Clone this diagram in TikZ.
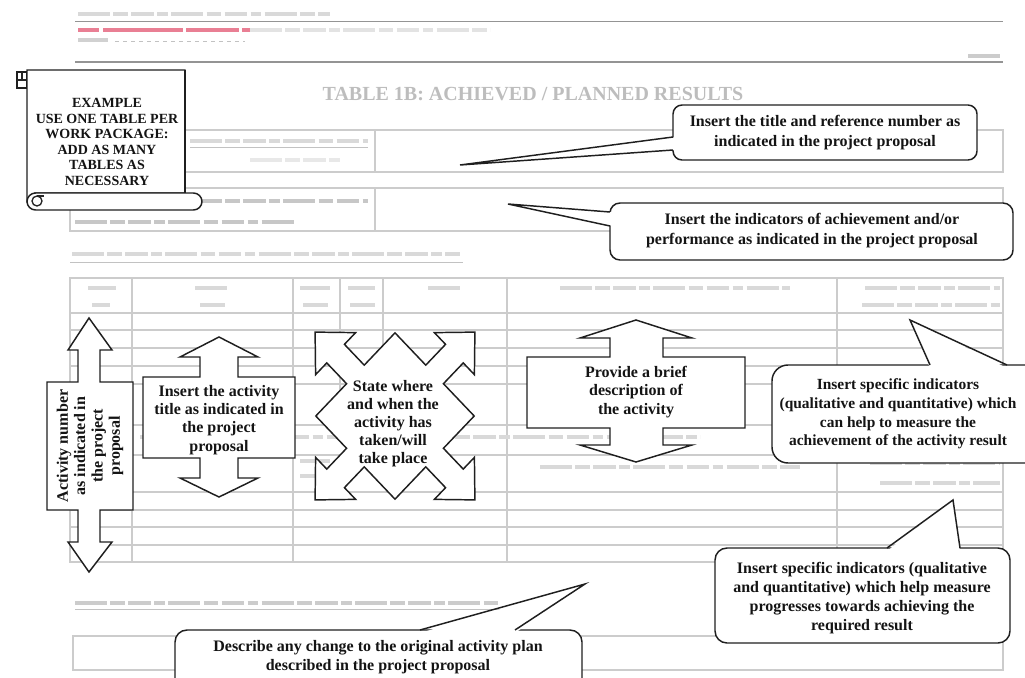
\documentclass[tikz,border=0pt]{standalone}
\usepackage{fontspec}
\setmainfont{Liberation Serif}
\begin{document}
\begin{tikzpicture}[x=0.75pt,y=-0.75pt,
  grid/.style={draw=black!20, line width=0.8pt},
  rulegray/.style={draw=black!42, line width=0.9pt},
  fadebar/.style={draw=black!15, line width=3pt,
    dash pattern=on 24pt off 2.5pt on 11pt off 2.5pt on 17pt off 2.5pt on 8pt off 2.5pt},
  fadeline/.style={draw=black!24, line width=0.6pt},
  cshape/.style={draw=black!88, line width=1.1pt, fill=white, line join=miter},
  ctext/.style={align=center, text=black!92, inner sep=0pt, font=\bfseries\fontsize{12}{15}\selectfont},
  faded/.style={text=black!26, inner sep=0pt}
]
\useasboundingbox (0,0) rectangle (1025,678);
\clip (0,0) rectangle (1025,678);

% ---------- page header ----------
\draw[fadebar] (78,14) -- (330,14);
\draw[rulegray] (75,21.5) -- (1003,21.5);
\draw[draw={rgb,255:red,226;green,84;blue,112}, line width=2.6pt, opacity=.75,
  dash pattern=on 16pt off 3pt on 60pt off 2pt on 40pt off 2pt] (78,30) -- (250,30);
\draw[fadebar, draw=black!11] (250,30) -- (490,30);
\draw[fadebar, draw=black!18] (78,40) -- (108,40);
\draw[fadeline, dashed] (115,41) -- (245,41);
\draw[rulegray] (75,62) -- (1003,62);
\draw[fadebar, draw=black!20] (968,56) -- (1000,56);

% ---------- table title ----------
\node[faded, font=\bfseries\fontsize{15}{15}\selectfont] (tabtitle) at (533,94)
  {TABLE 1B: ACHIEVED / PLANNED RESULTS};

% ---------- first two single-row tables ----------
\draw[grid] (70,130) rectangle (1003,172);
\draw[grid] (375,130) -- (375,172);
\draw[fadebar] (190,141) -- (368,141);
\draw[fadeline] (190,147) -- (368,147);
\draw[fadebar, draw=black!9] (250,160) -- (340,160);

\draw[grid] (70,188) rectangle (1003,231);
\draw[grid] (375,188) -- (375,231);
\draw[fadebar, draw=black!22] (190,201) -- (368,201);
\draw[fadebar, draw=black!22] (75,222) -- (295,222);

% ---------- activities table ----------
\draw[fadebar] (72,254) -- (460,254);
\draw[fadeline] (70,262) -- (463,262);

\draw[grid] (70,278) rectangle (1003,562);
\foreach \yy in {313,330,348,366,384,425,455,492,510,527,545}
  \draw[grid] (70,\yy) -- (1003,\yy);
\foreach \xx in {132,293,507,837}
  \draw[grid] (\xx,278) -- (\xx,562);
\foreach \xx in {340,383}
  \draw[grid] (\xx,278) -- (\xx,425);

% column headings and cell contents
\foreach \xa/\xb/\yy in {88/116/288, 92/110/305, 195/230/288, 200/225/305,
    300/330/288, 303/328/305, 348/375/288, 350/375/305, 428/462/288,
    560/790/288, 865/1000/288, 862/1000/305,
    140/700/437, 540/800/467, 870/1000/463, 880/1000/483,
    300/330/461, 300/340/476}
  \draw[fadebar] (\xa,\yy) -- (\xb,\yy);

% ---------- changes section ----------
\draw[fadebar, draw=black!20] (75,603) -- (500,603);
\draw[fadeline] (75,609) -- (500,609);
\draw[grid] (73,636) rectangle (1003,670);

% ---------- scroll note ----------
\draw[cshape, line width=1pt] (17,72) rectangle (27,88);
\draw[line width=0.8pt, black!85] (17,80) -- (27,80) (22,72) -- (22,80);
\filldraw[cshape] (27,201) -- (27,70) -- (179,70) [rounded corners=0pt]
  -- (185,70) -- (185,193) -- (35,193) -- cycle;
\draw[cshape] (185,70) -- (185,193);
\filldraw[cshape, rounded corners=6.4pt] (27,193) rectangle (202,210);
\draw[line width=1pt, black!85] (37,201) circle (5);
\draw[line width=1pt, black!85] (37,196) -- (44,196);
\node[ctext, font=\bfseries\fontsize{10.5}{11.7}\selectfont] (scrolltext) at (107,142)
  {EXAMPLE\\USE ONE TABLE PER\\WORK PACKAGE:\\ADD AS MANY\\TABLES AS\\NECESSARY};

% ---------- callout: title and reference number ----------
\filldraw[cshape, rounded corners=6.75pt] (673,105) rectangle (977,160);
\fill[white] (676,137) -- (460,165) -- (676,150) -- cycle;
\draw[cshape, fill=none] (673,137) -- (460,165) -- (673,150);
\node[ctext] (c1) at (825,133)
  {Insert the title and reference number as\\indicated in the project proposal};

% ---------- callout: indicators of achievement ----------
\filldraw[cshape, rounded corners=7.5pt] (610,203) rectangle (1013,260);
\fill[white] (613,212) -- (508,204) -- (613,226) -- cycle;
\draw[cshape, fill=none] (610,212) -- (508,204) -- (610,226);
\node[ctext] (c2) at (812,231)
  {Insert the indicators of achievement and/or\\performance as indicated in the project proposal};

% ---------- up-down arrow: activity number ----------
\filldraw[cshape] (89,318) -- (112,350) -- (100,350) -- (100,382) -- (133,382)
  -- (133,510) -- (100,510) -- (100,542) -- (112,542) -- (89,572) -- (68,542)
  -- (78,542) -- (78,510) -- (47,510) -- (47,382) -- (78,382) -- (78,350)
  -- (68,350) -- cycle;
\node[ctext, rotate=90, font=\bfseries\fontsize{12}{13}\selectfont] (actnum) at (90,446)
  {Activity number\\as indicated in\\the project\\proposal};

% ---------- up-down arrow: activity title ----------
\filldraw[cshape] (219,337) -- (258,357) -- (238,357) -- (238,377) -- (295,377)
  -- (295,458) -- (238,458) -- (238,478) -- (258,478) -- (219,497) -- (180,478)
  -- (200,478) -- (200,458) -- (143,458) -- (143,377) -- (200,377) -- (200,357)
  -- (180,357) -- cycle;
\node[ctext, font=\bfseries\fontsize{12}{13.7}\selectfont] (acttitle) at (219,420)
  {Insert the activity\\title as indicated in\\the project\\proposal};

% ---------- quad arrow: place and date ----------
\begin{scope}[shift={(395,416)}, yscale=1.05, rotate=45]
  \filldraw[cshape] (113,0) -- (84,28.3) -- (84,12.5) -- (56,12.5) -- (56,56)
    -- (12.5,56) -- (12.5,84) -- (28.3,84) -- (0,113) -- (-28.3,84) -- (-12.5,84)
    -- (-12.5,56) -- (-56,56) -- (-56,12.5) -- (-84,12.5) -- (-84,28.3) -- (-113,0)
    -- (-84,-28.3) -- (-84,-12.5) -- (-56,-12.5) -- (-56,-56) -- (-12.5,-56)
    -- (-12.5,-84) -- (-28.3,-84) -- (0,-113) -- (28.3,-84) -- (12.5,-84)
    -- (12.5,-56) -- (56,-56) -- (56,-12.5) -- (84,-12.5) -- (84,-28.3) -- cycle;
\end{scope}
\node[ctext, font=\bfseries\fontsize{12}{13.5}\selectfont] (place) at (393,424)
  {State where\\and when the\\activity has\\taken/will\\take place};

% ---------- up-down arrow: description ----------
\filldraw[cshape] (636,320) -- (692,338) -- (663,338) -- (663,357) -- (745,357)
  -- (745,428) -- (663,428) -- (663,445) -- (692,445) -- (636,462) -- (580,445)
  -- (610,445) -- (610,428) -- (527,428) -- (527,357) -- (610,357) -- (610,338)
  -- (580,338) -- cycle;
\node[ctext, font=\bfseries\fontsize{12}{13.9}\selectfont] (descr) at (636,392)
  {Provide a brief\\description of\\the activity};

% ---------- callout: activity result indicators ----------
\filldraw[cshape, rounded corners=12pt] (772,365) rectangle (1045,463);
\fill[white] (930,368) -- (910,320) -- (1007,368) -- cycle;
\draw[cshape, fill=none] (930,365) -- (910,320) -- (1007,365);
\node[ctext, font=\bfseries\fontsize{11.6}{14}\selectfont] (c3) at (898,414)
  {Insert specific indicators\\(qualitative and quantitative) which\\can help to measure the\\achievement of the activity result};

% ---------- callout: progress indicators ----------
\filldraw[cshape, rounded corners=9pt] (715,548) rectangle (1010,643);
\fill[white] (887,551) -- (953,500) -- (960,551) -- cycle;
\draw[cshape, fill=none] (887,548) -- (953,500) -- (960,548);
\node[ctext, font=\bfseries\fontsize{12}{14.3}\selectfont] (c4) at (862,598)
  {Insert specific indicators (qualitative\\and quantitative) which help measure\\progresses towards achieving the\\required result};

% ---------- callout: changes to the plan ----------
\filldraw[cshape, rounded corners=9pt] (175,630) rectangle (582,700);
\fill[white] (420,633) -- (585,584) -- (515,633) -- cycle;
\draw[cshape, fill=none] (420,630) -- (585,584) -- (515,630);
\node[ctext, font=\bfseries\fontsize{12}{14.3}\selectfont] (c5) at (378,657)
  {Describe any change to the original activity plan\\described in the project proposal};
\end{tikzpicture}
\end{document}
